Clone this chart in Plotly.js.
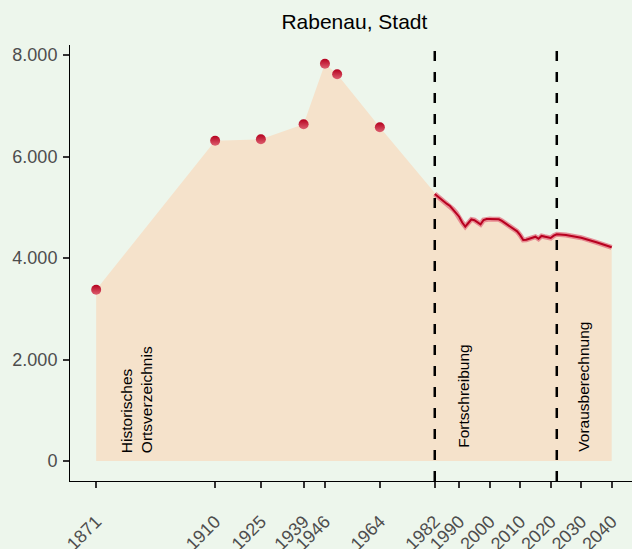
<!DOCTYPE html>
<html>
<head>
<meta charset="utf-8">
<script src="https://cdn.plot.ly/plotly-3.0.1.min.js"></script>
<style>html,body{margin:0;padding:0;background:#edf6ec;}</style>
</head>
<body>
<div id="chart" style="width:632px;height:549px;"></div>
<script>
// Historisches Ortsverzeichnis
const histYears = [1871, 1910, 1925, 1939, 1946, 1950, 1964];
const histValues = [3375, 6311, 6339, 6635, 7829, 7620, 6575];

// Fortschreibung
const fortYears = [1982, 1983, 1984, 1985, 1986, 1987, 1988, 1989, 1990, 1991,
  1992, 1993, 1994, 1995, 1996, 1997, 1998, 1999, 2000, 2001,
  2002, 2003, 2004, 2005, 2006, 2007, 2008, 2009, 2010, 2011,
  2012, 2013, 2014, 2015, 2016, 2017, 2018, 2019, 2020, 2021];
const fortValues = [5261, 5210, 5156, 5110, 5065, 5025, 4960, 4890, 4814, 4700,
  4620, 4690, 4760, 4745, 4700, 4664, 4749, 4768, 4768, 4765,
  4765, 4763, 4730, 4690, 4640, 4600, 4570, 4525, 4450, 4355,
  4360, 4374, 4400, 4420, 4380, 4435, 4420, 4408, 4395, 4440];

// Vorausberechnung
const projYears = [2022, 2025, 2030, 2035, 2040];
const projValues = [4467, 4453, 4400, 4309, 4211];

const tickYears = [1871, 1910, 1925, 1939, 1946, 1964, 1982, 1990, 2000, 2010, 2020, 2030, 2040];
const yTicks = [0, 2000, 4000, 6000, 8000];
const periodBreaks = [1982, 2022];

const areaX = histYears.concat(fortYears, projYears);
const areaY = histValues.concat(fortValues, projValues);
const lineX = fortYears.concat(projYears);
const lineY = fortValues.concat(projValues);

const traces = [
  {x: areaX, y: areaY, type: 'scatter', mode: 'lines', fill: 'tozeroy',
   fillcolor: '#f5e2cb', line: {width: 0, color: '#f5e2cb'}, hoverinfo: 'skip', showlegend: false},
  {x: lineX, y: lineY, type: 'scatter', mode: 'lines',
   line: {width: 5, color: 'rgba(226,110,125,0.75)'}, showlegend: false},
  {x: lineX, y: lineY, type: 'scatter', mode: 'lines',
   line: {width: 2, color: '#b8001f'}, showlegend: false},
  {x: histYears, y: histValues, type: 'scatter', mode: 'markers',
   marker: {size: 10, color: '#b5001e', line: {width: 0},
            gradient: {type: 'vertical', color: '#dd6070'}}, showlegend: false}
];

const shapes = periodBreaks.map(v => ({
  type: 'line', xref: 'x', yref: 'paper', x0: v, x1: v, y0: 0, y1: 1,
  line: {color: '#000000', width: 2.5, dash: '10px,11px'}
}));

const annFont = {family: 'Liberation Sans, Arial, sans-serif', size: 15.5, color: '#000000'};
const annotations = [
  {x: 1884.3, y: 120, xref: 'x', yref: 'y', text: 'Historisches<br>Ortsverzeichnis',
   textangle: -90, align: 'left', xanchor: 'center', yanchor: 'bottom', showarrow: false, font: annFont},
  {x: 1991.3, y: 215, xref: 'x', yref: 'y', text: 'Fortschreibung',
   textangle: -90, align: 'left', xanchor: 'center', yanchor: 'bottom', showarrow: false, font: annFont},
  {x: 2030.7, y: 150, xref: 'x', yref: 'y', text: 'Vorausberechnung',
   textangle: -90, align: 'left', xanchor: 'center', yanchor: 'bottom', showarrow: false, font: annFont}
];

const layout = {
  width: 632, height: 549,
  margin: {l: 69.5, r: 0, t: 45, b: 68, pad: 0},
  paper_bgcolor: '#edf6ec', plot_bgcolor: '#edf6ec',
  separators: ',.',
  font: {family: 'Liberation Sans, Arial, sans-serif', color: '#4d4d4d'},
  title: {text: 'Rabenau, Stadt', font: {size: 21, color: '#000000'},
          x: 0.506, xref: 'paper', xanchor: 'center', y: 0.9605, yref: 'container', yanchor: 'middle'},
  xaxis: {range: [1862.42, 2046.66], tickmode: 'array', tickvals: tickYears,
          ticktext: tickYears.map(String), tickangle: -45, showgrid: false, zeroline: false,
          showline: true, linecolor: '#000000', linewidth: 1,
          ticks: 'outside', ticklen: 6, tickwidth: 2, tickcolor: '#333333',
          tickfont: {size: 18, color: '#4d4d4d'}, ticklabelstandoff: 16},
  yaxis: {range: [-394, 8197], tickmode: 'array', tickvals: yTicks, tickformat: ',d',
          showgrid: false, zeroline: false, showline: true, linecolor: '#000000', linewidth: 1,
          ticks: 'outside', ticklen: 6, tickwidth: 2, tickcolor: '#333333',
          tickfont: {size: 18, color: '#4d4d4d'}, ticklabelstandoff: 2},
  shapes: shapes,
  annotations: annotations
};

Plotly.newPlot('chart', traces, layout, {displayModeBar: false, staticPlot: true});
</script>
</body>
</html>
